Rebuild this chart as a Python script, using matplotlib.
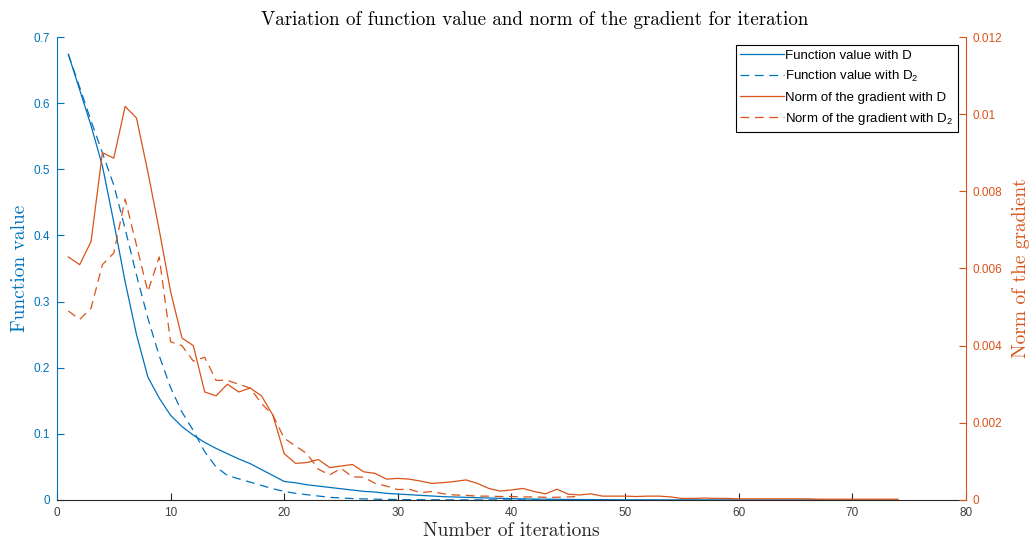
import matplotlib
matplotlib.use("Agg")
import matplotlib.pyplot as plt

# ---------------- data ----------------
iters_D = list(range(1, 75))
iters_D2 = list(range(1, 47))

fval_D = [0.674, 0.620, 0.566, 0.505, 0.420, 0.330, 0.250, 0.186, 0.154, 0.128,
          0.111, 0.098, 0.087, 0.078, 0.070, 0.062, 0.055, 0.046, 0.037, 0.028,
          0.026, 0.023, 0.021, 0.019, 0.017, 0.015, 0.013, 0.012, 0.010, 0.009,
          0.008, 0.007, 0.006, 0.005, 0.0045, 0.004, 0.0035, 0.003, 0.0025, 0.002,
          0.0017, 0.0014, 0.0012, 0.0010, 0.0008, 0.0007, 0.0006, 0.0005, 0.0004, 0.0003,
          0.0003, 0.0003, 0.0002, 0.0002, 0.0002, 0.0002, 0.00015, 0.00015, 0.00015, 0.0001,
          0.0001, 0.0001, 0.0001, 0.0001, 0.0001, 0.0001, 0.00008, 0.00008, 0.00008, 0.00008,
          0.00006, 0.00006, 0.00006, 0.00006]

fval_D2 = [0.674, 0.624, 0.573, 0.525, 0.476, 0.410, 0.340, 0.275, 0.218, 0.170,
           0.133, 0.105, 0.073, 0.050, 0.037, 0.032, 0.027, 0.022, 0.017, 0.013,
           0.010, 0.008, 0.006, 0.004, 0.003, 0.0022, 0.0016, 0.0012, 0.0009, 0.0007,
           0.0005, 0.0004, 0.0003, 0.0003, 0.0002, 0.0002, 0.00015, 0.00012, 0.0001, 0.0001,
           0.00008, 0.00007, 0.00006, 0.00005, 0.00004, 0.00004]

grad_D = [0.0063, 0.0061, 0.0067, 0.0090, 0.00886, 0.0102, 0.0099, 0.0085, 0.0070, 0.0054,
          0.0042, 0.0040, 0.0028, 0.0027, 0.0030, 0.0028, 0.0029, 0.0027, 0.0022, 0.0012,
          0.00095, 0.00097, 0.00105, 0.00084, 0.00088, 0.00092, 0.00073, 0.00069, 0.00054, 0.00056,
          0.00054, 0.00049, 0.00043, 0.00045, 0.00048, 0.00052, 0.00043, 0.00030, 0.00023, 0.00026,
          0.00030, 0.00022, 0.00016, 0.00028, 0.00015, 0.00013, 0.00016, 0.00010, 0.00010, 0.00010,
          0.00009, 0.00010, 0.00010, 0.00008, 0.00004, 0.00004, 0.00005, 0.00004, 0.00004, 0.00003,
          0.00003, 0.00003, 0.00003, 0.00003, 0.00003, 0.00003, 0.00002, 0.00002, 0.00002, 0.00002,
          0.00002, 0.00002, 0.00002, 0.00002]

grad_D2 = [0.0049, 0.00468, 0.00497, 0.0061, 0.0064, 0.0078, 0.0066, 0.0054, 0.0063, 0.0041,
           0.0040, 0.0036, 0.0037, 0.0031, 0.0031, 0.0030, 0.0029, 0.0025, 0.0022, 0.0016,
           0.0014, 0.0012, 0.0008, 0.00065, 0.00082, 0.0006, 0.00059, 0.00043, 0.00036, 0.00027,
           0.00028, 0.00019, 0.00022, 0.00016, 0.00013, 0.00012, 0.00010, 0.00010, 0.00009, 0.00009,
           0.00008, 0.00008, 0.00007, 0.00007, 0.00008, 0.00009]

labels = ["Function value with D", r"Function value with D$\mathregular{_2}$",
          "Norm of the gradient with D", r"Norm of the gradient with D$\mathregular{_2}$"]
title = "Variation of function value and norm of the gradient for iteration"
xlabel = "Number of iterations"
ylabel_left = "Function value"
ylabel_right = "Norm of the gradient"

# ---------------- style ----------------
BLUE = "#0072BD"
ORANGE = "#D95319"
DARK = "#262626"
plt.rcParams["font.family"] = ["Liberation Sans", "DejaVu Sans"]

fig = plt.figure(figsize=(10.32, 5.45), dpi=100)
ax = fig.add_axes([0.0552, 0.0826, 0.8808, 0.8495])
ax2 = ax.twinx()

LW = 0.9
l1, = ax.plot(iters_D, fval_D, color=BLUE, lw=LW, label=labels[0])
l2, = ax.plot(iters_D2, fval_D2, color=BLUE, lw=LW, dashes=(7, 4.5), label=labels[1])
l3, = ax2.plot(iters_D, grad_D, color=ORANGE, lw=LW, label=labels[2])
l4, = ax2.plot(iters_D2, grad_D2, color=ORANGE, lw=LW, dashes=(7, 4.5), label=labels[3])

ax.set_xlim(0, 80)
ax.set_ylim(0, 0.7)
ax2.set_ylim(0, 0.012)
ax.set_xticks(range(0, 81, 10))
ax.set_yticks([0, 0.1, 0.2, 0.3, 0.4, 0.5, 0.6, 0.7])
ax.set_yticklabels(["0", "0.1", "0.2", "0.3", "0.4", "0.5", "0.6", "0.7"])
ax2.set_yticks([0, 0.002, 0.004, 0.006, 0.008, 0.01, 0.012])
ax2.set_yticklabels(["0", "0.002", "0.004", "0.006", "0.008", "0.01", "0.012"])

for a in (ax, ax2):
    a.spines["top"].set_visible(False)
ax.spines["right"].set_visible(False)
ax2.spines["left"].set_visible(False)
ax2.spines["bottom"].set_visible(False)
ax.spines["left"].set_color(BLUE)
ax2.spines["right"].set_color(ORANGE)
ax.spines["bottom"].set_color(DARK)
for s in ("left", "bottom"):
    ax.spines[s].set_linewidth(0.8)
ax2.spines["right"].set_linewidth(0.8)

ax.tick_params(axis="x", direction="in", length=5, width=0.8, color=DARK,
               labelcolor="#404040", labelsize=8.5, pad=5)
ax.tick_params(axis="y", direction="in", length=5, width=0.8, color=BLUE,
               labelcolor=BLUE, labelsize=8.5, pad=5)
ax2.tick_params(axis="y", direction="in", length=5, width=0.8, color=ORANGE,
                labelcolor=ORANGE, labelsize=8.5, pad=5)

ax.set_title(title, fontfamily="cmr10", fontsize=13.7, color="black", pad=9, x=0.526)
ax.set_xlabel(xlabel, fontfamily="cmr10", fontsize=14, color=DARK, labelpad=2)
ax.set_ylabel(ylabel_left, fontfamily="cmr10", fontsize=14, color=BLUE, labelpad=3)
ax2.set_ylabel(ylabel_right, fontfamily="cmr10", fontsize=14, color=ORANGE, labelpad=7)

leg = ax2.legend(handles=[l1, l2, l3, l4], loc="upper right", fontsize=9.5,
                 frameon=True, fancybox=False, edgecolor="black", framealpha=1,
                 handlelength=3.3, handletextpad=0.1, borderpad=0.35,
                 labelspacing=0.55, borderaxespad=0.6)
leg.get_frame().set_linewidth(0.8)

fig.savefig("out.png", dpi=100)
